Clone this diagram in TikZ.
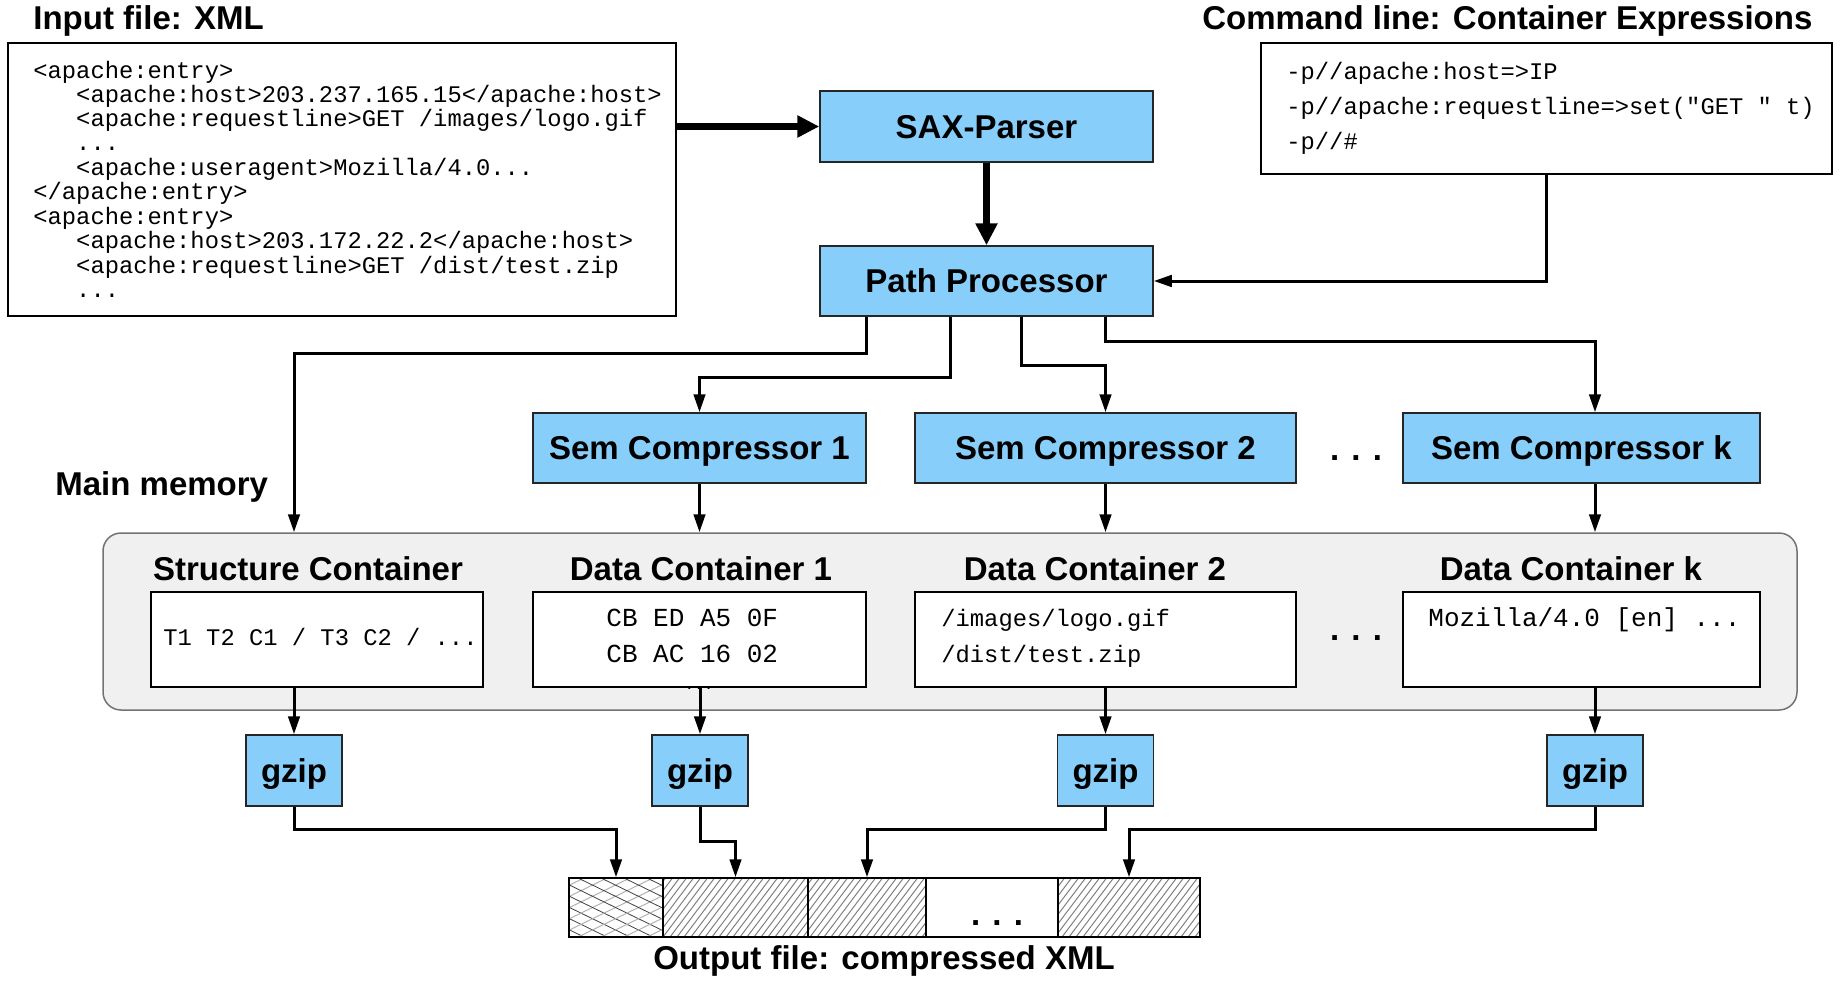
\documentclass[tikz,border=0pt]{standalone}
\usepackage{fontspec}
\setmainfont{Liberation Sans}
\setmonofont{Liberation Mono}
\usetikzlibrary{arrows.meta,calc}
\definecolor{boxblue}{HTML}{87CEFA}
\definecolor{memgray}{HTML}{F0F0F0}
\newcommand{\ind}{\hspace*{1.8em}}
\begin{document}
\begin{tikzpicture}[x=0.5pt,y=-0.5pt,
  sz/.style 2 args={minimum width=#1*0.5pt, minimum height=#2*0.5pt},
  lbl/.style={font=\bfseries\fontsize{16.5}{19.8}\selectfont, inner sep=0pt},
  bluebox/.style={draw=black!85, line width=0.75pt, fill=boxblue, inner sep=0pt,
                  text height=11.5pt, text depth=0pt,
                  font=\bfseries\fontsize{16.5}{19.8}\selectfont},
  whitebox/.style={draw=black, line width=0.75pt, fill=white, inner sep=0pt},
  outseg/.style={draw=black, line width=0.75pt, inner sep=0pt},
  mono/.style={font=\ttfamily\fontsize{11.9}{12}\selectfont, inner sep=0pt},
  monobig/.style={font=\ttfamily\fontsize{13}{18}\selectfont, inner sep=0pt},
  monomid/.style={font=\ttfamily\fontsize{11.9}{18}\selectfont, inner sep=0pt},
  conn/.style={line width=1.5pt, -{Triangle[length=9pt,width=5.75pt]}},
  fat/.style={line width=3.5pt, -{Triangle[length=11pt,width=10.5pt]}},
]
\useasboundingbox (0,0) rectangle (1844,985);

% titles
\node[lbl, anchor=base west] (tin) at (33,30) {Input file: XML};
\node[lbl, anchor=base west] (tcmd) at (1202,30) {Command line: Container Expressions};
\node[lbl, anchor=base west] (tmem) at (55,495) {Main memory};

% input and command boxes
\node[whitebox, sz={668}{273}] (inp) at (342,179.5) {};
\node[mono, anchor=base west] (inptxt) at (33,78) {\begin{tabular}[t]{@{}l@{}}
<apache:entry>\\
\ind<apache:host>203.237.165.15</apache:host>\\
\ind<apache:requestline>GET /images/logo.gif\\
\ind...\\
\ind<apache:useragent>Mozilla/4.0...\\
</apache:entry>\\
<apache:entry>\\
\ind<apache:host>203.172.22.2</apache:host>\\
\ind<apache:requestline>GET /dist/test.zip\\
\ind...
\end{tabular}};

\node[whitebox, sz={571}{131}] (cmd) at (1546.5,108.5) {};
\node[mono, font=\ttfamily\fontsize{11.9}{17.75}\selectfont, anchor=base west] (cmdtxt) at (1286,79) {\begin{tabular}[t]{@{}l@{}}
-p//apache:host=>IP\\
-p//apache:requestline=>set("GET " t)\\
-p//\#
\end{tabular}};

% processing boxes
\node[bluebox, sz={333}{71}] (sax) at (986.5,126.5) {SAX-Parser};
\node[bluebox, sz={333}{70}] (pp) at (986.5,281) {Path Processor};
\node[bluebox, sz={333}{70}] (sem1) at (699.5,448) {Sem Compressor 1};
\node[bluebox, sz={381}{70}] (sem2) at (1105.5,448) {Sem Compressor 2};
\node[bluebox, sz={357}{70}] (semk) at (1581.5,448) {Sem Compressor k};
\node[lbl, anchor=base] (dots1) at (1356,460) {. . .};

% main memory
\node[draw=black!55, line width=0.75pt, fill=memgray, rounded corners=9pt, sz={1694}{177}] (mem) at (950,621.5) {};
\node[lbl, anchor=base] (tsc) at (308,580) {Structure Container};
\node[lbl, anchor=base] (td1) at (701,580) {Data Container 1};
\node[lbl, anchor=base] (td2) at (1095,580) {Data Container 2};
\node[lbl, anchor=base] (tdk) at (1571,580) {Data Container k};

\node[whitebox, sz={332}{95}] (sc) at (317,639.5) {};
\node[whitebox, sz={333}{95}] (d1) at (699.5,639.5) {};
\node[whitebox, sz={381}{95}] (d2) at (1105.5,639.5) {};
\node[whitebox, sz={357}{95}] (dk) at (1581.5,639.5) {};
\node[lbl, anchor=base] (dots2) at (1356,640) {. . .};

\node[mono, anchor=base west] (sctxt) at (163,645) {T1 T2 C1 / T3 C2 / ...};
\node[monobig, anchor=base west] (d1txt) at (606,626) {\begin{tabular}[t]{@{}l@{}}
CB ED A5 0F\\
CB AC 16 02
\end{tabular}};
\node[font=\ttfamily\fontsize{8}{8}\selectfont, inner sep=0pt, anchor=base] (d1dots) at (699,689) {...};
\node[monomid, anchor=base west] (d2txt) at (941,626) {\begin{tabular}[t]{@{}l@{}}
/images/logo.gif\\
/dist/test.zip
\end{tabular}};
\node[monobig, anchor=base west] (dktxt) at (1428,626) {Mozilla/4.0 [en] ...};

% gzip boxes
\node[bluebox, sz={96}{71}] (gz1) at (294,770.5) {gzip};
\node[bluebox, sz={96}{71}] (gz2) at (700,770.5) {gzip};
\node[bluebox, sz={96}{71}] (gz3) at (1105.5,770.5) {gzip};
\node[bluebox, sz={96}{71}] (gzk) at (1595,770.5) {gzip};

% output file hatching
\begin{scope}
  \clip (569,878) rectangle (663,937);
  \foreach \a in {440,463,...,690} {
    \draw[gray!60, line width=0.5pt] (\a,937) -- ++(121,-59);
    \draw[black!75, line width=0.4pt] (\a,878) -- ++(121,59);
  }
\end{scope}
\begin{scope}
  \clip (663,878) rectangle (926,937) (1058,878) rectangle (1200,937);
  \foreach \a in {600,607,...,1210} {
    \draw[gray, line width=0.5pt] (\a,937) -- ++(44.5,-59);
  }
\end{scope}
\node[outseg, sz={94}{59}] (o1) at (616,907.5) {};
\node[outseg, sz={145}{59}] (o2) at (735.5,907.5) {};
\node[outseg, sz={118}{59}] (o3) at (867,907.5) {};
\node[outseg, sz={132}{59}] (o4) at (992,907.5) {};
\node[outseg, sz={142}{59}] (o5) at (1129,907.5) {};
\node[lbl, anchor=base] (dots3) at (997,925) {. . .};
\node[lbl, anchor=base] (tout) at (884,969) {Output file: compressed XML};

% connectors
\draw[fat] (inp.east |- sax.west) -- (sax.west);
\draw[fat] (sax.south) -- (pp.north);
\draw[conn] (cmd.south) |- (pp.east);
\draw[conn] ($(pp.south)+(-120,0)$) -- ++(0,37) -| (mem.north -| gz1.north);
\draw[conn] ($(pp.south)+(-36.5,0)$) -- ++(0,61) -| (sem1.north);
\draw[conn] ($(pp.south)+(34.5,0)$) -- ++(0,49) -| (sem2.north);
\draw[conn] ($(pp.south)+(118.5,0)$) -- ++(0,25) -| (semk.north -| gzk.north);
\draw[conn] (sem1.south) -- (sem1.south |- mem.north);
\draw[conn] (sem2.south) -- (sem2.south |- mem.north);
\draw[conn] (semk.south -| gzk.north) -- (mem.north -| gzk.north);
\draw[conn] (sc.south -| gz1.north) -- (gz1.north);
\draw[conn] (d1.south -| gz2.north) -- (gz2.north);
\draw[conn] (d2.south) -- (gz3.north);
\draw[conn] (dk.south -| gzk.north) -- (gzk.north);
\draw[conn] (gz1.south) |- ($(o1.north)+(0,-48)$) -- (o1.north);
\draw[conn] (gz2.south) |- ($(o2.north)+(0,-36)$) -- (o2.north);
\draw[conn] (gz3.south) |- ($(o3.north)+(0,-48)$) -- (o3.north);
\draw[conn] (gzk.south) |- ($(o5.north)+(0,-48)$) -- (o5.north);
\end{tikzpicture}
\end{document}
